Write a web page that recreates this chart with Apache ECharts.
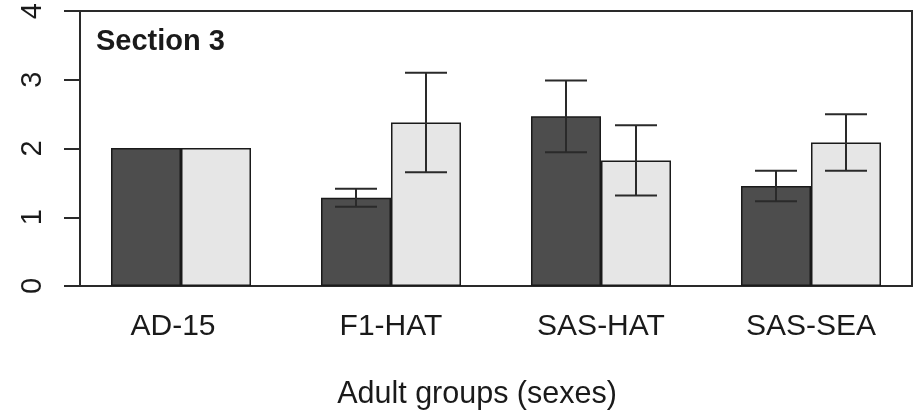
<!DOCTYPE html>
<html>
<head>
<meta charset="utf-8">
<script src="https://cdn.jsdelivr.net/npm/echarts@6/dist/echarts.min.js"></script>
<style>
  html, body { margin: 0; padding: 0; background: #fff; }
  #chart { width: 924px; height: 420px; }
</style>
</head>
<body>
<div id="chart"></div>
<script>
// Adult groups and mean values for the two sexes, with error half-widths
const categories = ['AD-15', 'F1-HAT', 'SAS-HAT', 'SAS-SEA'];
const darkMeans = [2.0, 1.28, 2.46, 1.45];
const darkErr = [0, 0.13, 0.52, 0.22];
const lightMeans = [2.0, 2.37, 1.82, 2.08];
const lightErr = [0, 0.72, 0.51, 0.41];
const yTicks = [0, 1, 2, 3, 4];

const FONT = 'Liberation Sans, Arial, sans-serif';
const INK = '#1a1a1a';

// Error bar with caps, offset to the left (-1) or right (+1) bar of each group
function errorBars(side) {
  return function (params, api) {
    const i = api.value(0), m = api.value(1), e = api.value(2);
    if (!e) return null;
    const band = api.size([1, 0])[0];
    const w = band / 3;
    const xc = api.coord([i, m])[0] + side * w / 2;
    const yTop = api.coord([i, m + e])[1];
    const yBot = api.coord([i, m - e])[1];
    const half = w * 0.3;
    const style = { stroke: '#2a2a2a', lineWidth: 2 };
    return {
      type: 'group',
      children: [
        { type: 'line', shape: { x1: xc, y1: yTop, x2: xc, y2: yBot }, style },
        { type: 'line', shape: { x1: xc - half, y1: yTop, x2: xc + half, y2: yTop }, style },
        { type: 'line', shape: { x1: xc - half, y1: yBot, x2: xc + half, y2: yBot }, style }
      ]
    };
  };
}

const chart = echarts.init(document.getElementById('chart'), null, { renderer: 'canvas' });

chart.setOption({
  animation: false,
  backgroundColor: '#ffffff',
  title: [
    {
      text: 'Section 3',
      left: 91, top: 22,
      textStyle: { fontFamily: FONT, fontSize: 29, fontWeight: 'bold', color: INK }
    },
    {
      text: 'Adult groups (sexes)',
      left: 472, top: 374, textAlign: 'center',
      textStyle: { fontFamily: FONT, fontSize: 30.5, fontWeight: 'normal', color: INK }
    }
  ],
  grid: [
    // framed plotting region carrying the y axis
    { left: 80, top: 10, width: 832, height: 276, show: true, borderColor: '#2a2a2a', borderWidth: 2, backgroundColor: 'transparent' },
    // bar layout region
    { left: 76, top: 10, width: 840, height: 276 }
  ],
  xAxis: [
    { gridIndex: 0, type: 'value', min: 0, max: 1, show: false },
    {
      gridIndex: 1, type: 'category',
      data: categories.map((c, i) => i === 0
        ? { value: c, textStyle: { padding: [0, 16, 0, 0] } }
        : c),
      axisLine: { show: false }, axisTick: { show: false },
      axisLabel: { fontFamily: FONT, fontSize: 30, color: INK, margin: 26 }
    }
  ],
  yAxis: [
    {
      gridIndex: 0, type: 'value',
      min: yTicks[0], max: yTicks[yTicks.length - 1], interval: 1,
      splitLine: { show: false },
      axisLine: { show: true, lineStyle: { color: '#2a2a2a', width: 2 } },
      axisTick: { show: true, length: 16, lineStyle: { color: '#2a2a2a', width: 2 } },
      axisLabel: { rotate: 90, margin: 33, fontFamily: FONT, fontSize: 29, color: INK }
    },
    { gridIndex: 1, type: 'value', min: yTicks[0], max: yTicks[yTicks.length - 1], show: false }
  ],
  series: [
    {
      type: 'bar', xAxisIndex: 1, yAxisIndex: 1,
      data: darkMeans,
      barGap: '0%', barCategoryGap: '33.33%',
      itemStyle: { color: '#4d4d4d', borderColor: '#1a1a1a', borderWidth: 1.5 }
    },
    {
      type: 'bar', xAxisIndex: 1, yAxisIndex: 1,
      data: lightMeans,
      barGap: '0%', barCategoryGap: '33.33%',
      itemStyle: { color: '#e6e6e6', borderColor: '#1a1a1a', borderWidth: 1.5 }
    },
    {
      type: 'custom', xAxisIndex: 1, yAxisIndex: 1,
      renderItem: errorBars(-1),
      data: darkMeans.map((m, i) => [i, m, darkErr[i]]),
      z: 5
    },
    {
      type: 'custom', xAxisIndex: 1, yAxisIndex: 1,
      renderItem: errorBars(1),
      data: lightMeans.map((m, i) => [i, m, lightErr[i]]),
      z: 5
    }
  ]
});
</script>
</body>
</html>
